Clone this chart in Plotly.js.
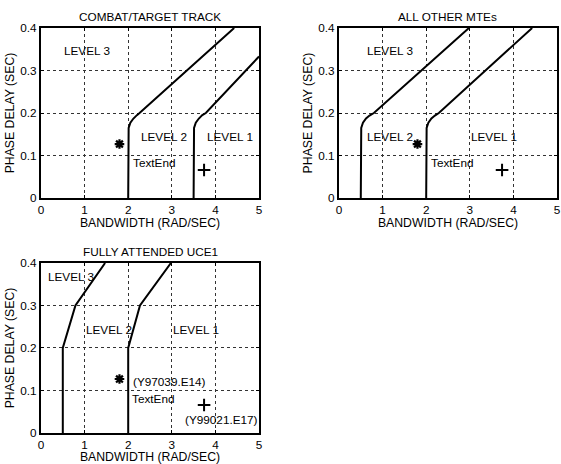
<!DOCTYPE html>
<html>
<head>
<meta charset="utf-8">
<script src="https://cdn.plot.ly/plotly-3.0.1.min.js"></script>
<style>html,body{margin:0;padding:0;background:#fff;}#chart{width:561px;height:464px;}</style>
</head>
<body>
<div id="chart"></div>
<script>
// ---- data ----
const subplotTitles = ['COMBAT/TARGET TRACK', 'ALL OTHER MTEs', 'FULLY ATTENDED UCE1'];
const xTickVals = [0, 1, 2, 3, 4, 5];
const yTickVals = [0, 0.1, 0.2, 0.3, 0.4];
const yTickText = ['0', '0.1', '0.2', '0.3', '0.4'];

// COMBAT/TARGET TRACK boundaries
const combat23X = [2, 2, 2.01, 2.05, 2.12, 2.2, 2.26, 4.43];
const combat23Y = [0, 0.15, 0.165, 0.177, 0.187, 0.195, 0.2, 0.4];
const combat12X = [3.5, 3.5, 3.51, 3.55, 3.62, 3.7, 3.78, 5];
const combat12Y = [0, 0.15, 0.165, 0.177, 0.187, 0.195, 0.2, 0.333];

// ALL OTHER MTEs boundaries
const other23X = [0.5, 0.5, 0.51, 0.55, 0.62, 0.7, 0.8, 2.98];
const other23Y = [0, 0.15, 0.165, 0.177, 0.187, 0.194, 0.2, 0.4];
const other12X = [2, 2, 2.01, 2.05, 2.12, 2.2, 2.29, 4.43];
const other12Y = [0, 0.15, 0.165, 0.177, 0.187, 0.194, 0.2, 0.4];

// FULLY ATTENDED UCE1 boundaries
const uce23X = [0.5, 0.5, 0.79, 1.47];
const uce23Y = [0, 0.2, 0.3, 0.4];
const uce12X = [2, 2, 2.27, 2.98];
const uce12Y = [0, 0.2, 0.3, 0.4];

// test points
const starX = [1.8], starY = [0.127];
const plusX = [3.74], plusY = [0.066];

// region labels [text, x, y] per subplot
const labels1 = [['LEVEL 3', 0.5, 0.348], ['LEVEL 2', 2.27, 0.145], ['LEVEL 1', 3.79, 0.145], ['TextEnd', 2.08, 0.083]];
const labels2 = [['LEVEL 3', 0.63, 0.348], ['LEVEL 2', 0.63, 0.145], ['LEVEL 1', 3.0, 0.145], ['TextEnd', 2.08, 0.083]];
const labels3 = [['LEVEL 3', 0.14, 0.369], ['LEVEL 2', 1.02, 0.244], ['LEVEL 1', 3.0, 0.244],
                 ['(Y97039.E14)', 2.08, 0.122], ['TextEnd', 2.06, 0.081], ['(Y99021.E17)', 3.29, 0.031]];

// ---- build ----
const FONT = 'Liberation Sans, Arial, Helvetica, sans-serif';
const FS = 11.75;
const FS_AX = 12.25;
const lineStyle = {color: '#000', width: 2};

function lineTrace(x, y, ax) {
  return {x: x, y: y, xaxis: 'x' + ax, yaxis: 'y' + ax, mode: 'lines', line: lineStyle, hoverinfo: 'skip', showlegend: false};
}
function pointTraces(ax) {
  return [
    {x: starX, y: starY, xaxis: 'x' + ax, yaxis: 'y' + ax, mode: 'markers', showlegend: false,
     marker: {symbol: 'asterisk-open', size: 8, color: '#000', line: {color: '#000', width: 2.2}}},
    {x: plusX, y: plusY, xaxis: 'x' + ax, yaxis: 'y' + ax, mode: 'markers', showlegend: false,
     marker: {symbol: 'cross-thin-open', size: 9, color: '#000', line: {color: '#000', width: 2}}}
  ];
}

const data = [
  lineTrace(combat23X, combat23Y, ''), lineTrace(combat12X, combat12Y, ''), ...pointTraces(''),
  lineTrace(other23X, other23Y, '2'), lineTrace(other12X, other12Y, '2'), ...pointTraces('2'),
  lineTrace(uce23X, uce23Y, '3'), lineTrace(uce12X, uce12Y, '3'), ...pointTraces('3')
];

function xAxis(domain, anchor) {
  return {
    domain: domain, anchor: anchor, range: [0, 5], tickvals: xTickVals, fixedrange: true,
    showline: true, mirror: 'ticks', linecolor: '#000', linewidth: 2,
    ticks: 'inside', ticklen: 3, tickcolor: '#000', tickwidth: 1,
    showgrid: true, gridcolor: '#333', gridwidth: 1, griddash: 'dot', zeroline: false,
    tickfont: {family: FONT, size: FS, color: '#000'},
    title: {text: 'BANDWIDTH (RAD/SEC)', font: {family: FONT, size: FS_AX, color: '#000'}, standoff: 3}
  };
}
function yAxis(domain, anchor) {
  return {
    domain: domain, anchor: anchor, range: [0, 0.4], tickvals: yTickVals, ticktext: yTickText, fixedrange: true,
    showline: true, mirror: 'ticks', linecolor: '#000', linewidth: 2,
    ticks: 'inside', ticklen: 3, tickcolor: '#000', tickwidth: 1,
    showgrid: true, gridcolor: '#333', gridwidth: 1, griddash: 'dot', zeroline: false,
    tickfont: {family: FONT, size: FS, color: '#000'},
    title: {text: 'PHASE DELAY (SEC)', font: {family: FONT, size: FS_AX, color: '#000'}, standoff: 3}
  };
}

const annotations = [];
[['x', 'y', labels1], ['x2', 'y2', labels2], ['x3', 'y3', labels3]].forEach(function (s, i) {
  annotations.push({
    text: subplotTitles[i], xref: s[0] + ' domain', yref: s[1] + ' domain', x: 0.5, y: 1,
    xanchor: 'center', yanchor: 'bottom', yshift: 3, showarrow: false,
    font: {family: FONT, size: FS, color: '#000'}
  });
  s[2].forEach(function (l) {
    annotations.push({
      text: l[0], xref: s[0], yref: s[1], x: l[1], y: l[2], xanchor: 'left', yanchor: 'middle',
      showarrow: false, borderpad: 0, font: {family: FONT, size: FS, color: '#000'}
    });
  });
});

const layout = {
  width: 561, height: 464,
  margin: {l: 41, r: 4, t: 28, b: 31},
  paper_bgcolor: '#fff', plot_bgcolor: '#fff',
  showlegend: false,
  xaxis: xAxis([0, 0.4225], 'y'),
  yaxis: yAxis([0.5802, 1], 'x'),
  xaxis2: xAxis([0.5775, 1], 'y2'),
  yaxis2: yAxis([0.5802, 1], 'x2'),
  xaxis3: xAxis([0, 0.4225], 'y3'),
  yaxis3: yAxis([0, 0.4198], 'x3'),
  annotations: annotations,
  font: {family: FONT, size: FS, color: '#000'}
};

Plotly.newPlot('chart', data, layout, {staticPlot: true, displayModeBar: false});
</script>
</body>
</html>
